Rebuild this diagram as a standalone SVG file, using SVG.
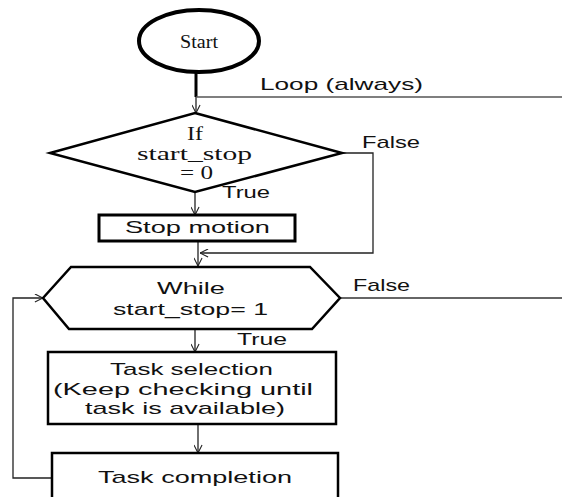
<svg xmlns="http://www.w3.org/2000/svg" width="562" height="497" viewBox="0 0 562 497">
<defs>
<style>
.shape{fill:#fff;stroke:#000;stroke-width:2.5}
.thick{stroke-width:3}
.conn{fill:none;stroke:#222;stroke-width:1.3}
.sans{font-family:"Liberation Sans",Arial,sans-serif;font-size:17px;fill:#111}
.serif{font-family:"Liberation Serif","Times New Roman",serif;font-size:18px;fill:#111}
</style>
<marker id="arr" viewBox="0 0 10 10" refX="10" refY="5" markerWidth="9" markerHeight="9" markerUnits="userSpaceOnUse" orient="auto">
<path d="M1,0.5 L10,5 L1,9.5" fill="none" stroke="#222" stroke-width="1.2"/>
</marker>
</defs>
<rect width="562" height="497" fill="#fff"/>

<g id="connectors">
<line x1="196" y1="72" x2="196" y2="97" stroke="#000" stroke-width="3"/>
<line class="conn" x1="196" y1="97" x2="196" y2="113" marker-end="url(#arr)"/>
<line x1="196" y1="97" x2="562" y2="97" stroke="#555" stroke-width="1.5"/>
<polyline class="conn" points="342,153 373,153 373,253 200,253" marker-end="url(#arr)"/>
<line class="conn" x1="195" y1="192" x2="195" y2="215" marker-end="url(#arr)"/>
<line class="conn" x1="198" y1="241" x2="198" y2="266" marker-end="url(#arr)"/>
<line x1="340" y1="298" x2="562" y2="298" stroke="#333" stroke-width="1.3"/>
<polyline class="conn" points="52,478 13,478 13,298 43,298" marker-end="url(#arr)"/>
<line class="conn" x1="195" y1="329" x2="195" y2="352" marker-end="url(#arr)"/>
<line class="conn" x1="198" y1="424" x2="198" y2="453" marker-end="url(#arr)"/>
<text class="sans" x="260" y="90" textLength="163" lengthAdjust="spacingAndGlyphs">Loop (always)</text>
<text class="sans" x="362" y="148" textLength="58" lengthAdjust="spacingAndGlyphs">False</text>
<text class="sans" x="222" y="198" textLength="48" lengthAdjust="spacingAndGlyphs">True</text>
<text class="sans" x="353" y="291" textLength="57" lengthAdjust="spacingAndGlyphs">False</text>
<text class="sans" x="237" y="345" textLength="50" lengthAdjust="spacingAndGlyphs">True</text>
</g>

<g id="start">
<ellipse cx="199" cy="41" rx="60" ry="31" fill="#fff" stroke="#000" stroke-width="4"/>
<text class="serif" x="180" y="48" font-size="21" textLength="38" lengthAdjust="spacingAndGlyphs">Start</text>
</g>

<g id="if-decision">
<polygon class="shape" points="195,113 342,153 195,192 50,153"/>
<text class="serif" x="187" y="140" textLength="16" lengthAdjust="spacingAndGlyphs">If</text>
<text class="serif" x="137" y="160" textLength="115" lengthAdjust="spacingAndGlyphs">start_stop</text>
<text class="serif" x="180" y="179" textLength="33" lengthAdjust="spacingAndGlyphs">= 0</text>
</g>

<g id="stop-motion">
<rect class="shape thick" x="99" y="215" width="196" height="26"/>
<text class="sans" x="125" y="233" textLength="145" lengthAdjust="spacingAndGlyphs">Stop motion</text>
</g>

<g id="while-loop">
<polygon class="shape" points="43,298 71,267 310,267 340,298 312,329 69,329"/>
<text class="sans" x="157" y="294" textLength="68" lengthAdjust="spacingAndGlyphs">While</text>
<text class="sans" x="113" y="315" textLength="155" lengthAdjust="spacingAndGlyphs">start_stop= 1</text>
</g>

<g id="task-selection">
<rect class="shape" x="48" y="352" width="288" height="72"/>
<text class="sans" x="110" y="375" textLength="163" lengthAdjust="spacingAndGlyphs">Task selection</text>
<text class="sans" x="53" y="394.5" textLength="260" lengthAdjust="spacingAndGlyphs">(Keep checking until</text>
<text class="sans" x="85" y="414" textLength="200" lengthAdjust="spacingAndGlyphs">task is available)</text>
</g>

<g id="task-completion">
<rect class="shape" x="52" y="453" width="286" height="60"/>
<text class="sans" x="98" y="483" textLength="194" lengthAdjust="spacingAndGlyphs">Task completion</text>
</g>
</svg>
